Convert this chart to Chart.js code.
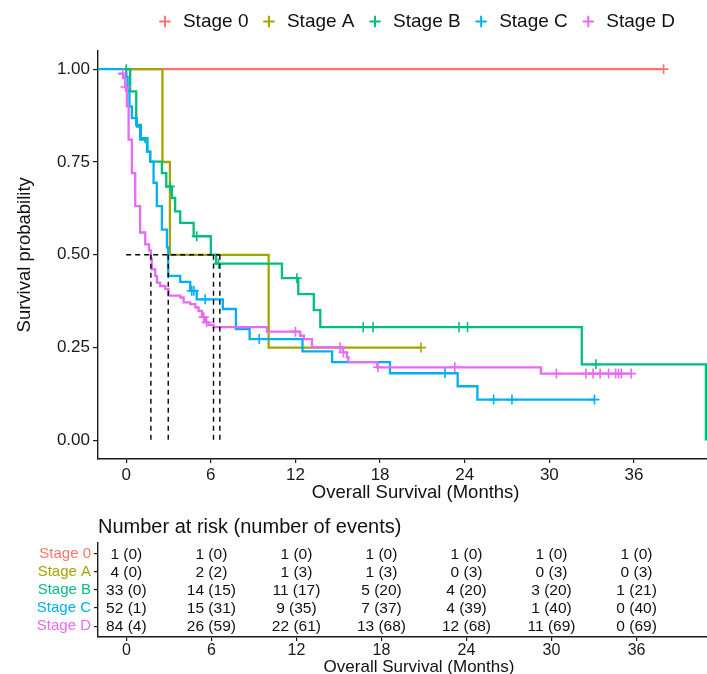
<!DOCTYPE html>
<html><head><meta charset="utf-8">
<script src="https://cdn.jsdelivr.net/npm/chart.js@4.4.1/dist/chart.umd.min.js"></script>
<style>
html,body{margin:0;padding:0;background:#fff;}
#wrap{width:707px;height:674px;overflow:hidden;position:relative;background:#fff;}
.box{position:absolute;left:0;width:740px;}
#mainBox{top:0;height:505px;}
#riskBox{top:505px;height:169px;}
</style></head><body>
<div id="wrap">
  <div class="box" id="mainBox"><canvas id="mainChart"></canvas></div>
  <div class="box" id="riskBox"><canvas id="riskChart"></canvas></div>
</div>
<script>
// ---------------- DATA ----------------
const stageNames  = ["Stage 0","Stage A","Stage B","Stage C","Stage D"];
const stageColors = ["#F8766D","#A3A500","#00BF7D","#00B0F6","#E76BF3"];

// Kaplan-Meier step curves (time in months, survival after that time)
const s0Times = [0, 38.1];
const s0Surv  = [1, 1];
const s0Censor = [38.1];

const sATimes = [0, 2.57, 3.1, 10.1, 20.9];
const sASurv  = [1, 0.75, 0.5, 0.25, 0.25];
const sACensor = [20.9];

const sBTimes = [0, 0.28, 0.71, 1.04, 1.51, 1.70, 2.53, 2.84, 3.24, 3.47, 3.83, 4.78, 6.0, 6.38, 11.04, 12.2, 13.3, 13.76, 32.3, 41.1];
const sBSurv  = [1, 0.94, 0.85, 0.814, 0.778, 0.751, 0.72, 0.684, 0.653, 0.617, 0.586, 0.55, 0.5, 0.476, 0.437, 0.394, 0.351, 0.305, 0.205, 0];
const sBCensor = [0, 3.1, 5.0, 6.55, 12.1, 16.8, 17.5, 23.6, 24.2, 33.3];

const sCTimes = [-2, 0, 0.1, 0.23, 0.4, 0.76, 0.99, 1.35, 1.47, 1.70, 1.94, 2.17, 2.53, 2.89, 2.98, 3.83, 4.54, 5.0, 6.85, 7.78, 8.75, 12.5, 14.6, 18.7, 23.5, 24.9, 33.2];
const sCSurv  = [1, 0.98, 0.94, 0.90, 0.868, 0.845, 0.81, 0.805, 0.778, 0.751, 0.694, 0.631, 0.568, 0.52, 0.443, 0.427, 0.403, 0.38, 0.354, 0.30, 0.273, 0.24, 0.211, 0.181, 0.146, 0.11, 0.11];
const sCCensor = [4.65, 4.8, 5.6, 9.43, 22.6, 26.05, 27.35, 33.2];

const sDTimes = [-0.5, -0.19, -0.07, 0.05, 0.17, 0.4, 0.64, 0.99, 1.35, 1.62, 1.75, 1.82, 2.06, 2.18, 2.41, 2.77, 3.0, 3.83, 4.07, 4.54, 4.9, 5.13, 5.37, 5.6, 5.84, 6.2, 9.98, 12.34, 12.6, 13.17, 15.35, 15.65, 15.75, 17.8, 29.4, 35.8];
const sDSurv  = [0.988, 0.976, 0.952, 0.90, 0.81, 0.72, 0.631, 0.56, 0.528, 0.512, 0.488, 0.461, 0.443, 0.425, 0.416, 0.408, 0.39, 0.385, 0.372, 0.367, 0.358, 0.349, 0.332, 0.318, 0.311, 0.305, 0.293, 0.282, 0.273, 0.251, 0.237, 0.224, 0.211, 0.197, 0.18, 0.18];
const sDCensor = [-0.24, -0.05, 5.5, 5.7, 12.0, 15.17, 15.4, 17.85, 23.3, 30.5, 32.6, 33.1, 33.6, 34.2, 34.7, 34.9, 35.1, 35.8];

// median survival times (Stage A, B, C, D)
const medianTimes = [6.64, 6.19, 2.98, 1.75];

// axis ticks
const xTickValues = [0, 6, 12, 18, 24, 30, 36];
const yTickValues = [0, 0.25, 0.5, 0.75, 1];
const yTickLabels = ["0.00", "0.25", "0.50", "0.75", "1.00"];

// risk table
const riskTimes = [0, 6, 12, 18, 24, 30, 36];
const riskN0 = [1, 1, 1, 1, 1, 1, 1];        const riskE0 = [0, 0, 0, 0, 0, 0, 0];
const riskNA = [4, 2, 1, 1, 0, 0, 0];        const riskEA = [0, 2, 3, 3, 3, 3, 3];
const riskNB = [33, 14, 11, 5, 4, 3, 1];     const riskEB = [0, 15, 17, 20, 20, 20, 21];
const riskNC = [52, 15, 9, 7, 4, 1, 0];      const riskEC = [1, 31, 35, 37, 39, 40, 40];
const riskND = [84, 26, 22, 13, 12, 11, 0];  const riskED = [4, 59, 61, 68, 68, 69, 69];

// ---------------- BUILD ----------------
const X_MIN = -2, X_MAX_MAIN = 43.05, X_MAX_RISK = 43.3;
const FONT = "'Liberation Sans', Arial, Helvetica, sans-serif";
Chart.defaults.font.family = FONT;
Chart.defaults.color = '#1a1a1a';

const allTimes  = [s0Times, sATimes, sBTimes, sCTimes, sDTimes];
const allSurv   = [s0Surv, sASurv, sBSurv, sCSurv, sDSurv];
const allCensor = [s0Censor, sACensor, sBCensor, sCCensor, sDCensor];
const riskN = [riskN0, riskNA, riskNB, riskNC, riskND];
const riskE = [riskE0, riskEA, riskEB, riskEC, riskED];

function stepPoints(times, surv) { return times.map((t, i) => ({x: t, y: surv[i]})); }
function survAt(times, surv, t) { let v = surv[0]; for (let i = 0; i < times.length; i++) { if (times[i] <= t) v = surv[i]; } return v; }

const datasets = [];
for (let i = 0; i < 5; i++) {
  datasets.push({
    label: stageNames[i], isCurve: true,
    data: stepPoints(allTimes[i], allSurv[i]),
    showLine: true, stepped: 'before',
    borderColor: stageColors[i], backgroundColor: stageColors[i],
    borderWidth: 2.3, pointRadius: 0, pointHoverRadius: 0,
    pointStyle: 'cross', pointBorderWidth: 2, order: 20 - i
  });
}
for (let i = 0; i < 5; i++) {
  datasets.push({
    label: stageNames[i] + ' censor',
    data: allCensor[i].map(t => ({x: t, y: survAt(allTimes[i], allSurv[i], t)})),
    showLine: false, pointStyle: 'cross', pointRadius: 5, pointHoverRadius: 5,
    pointBorderWidth: 1.6, borderColor: stageColors[i], backgroundColor: stageColors[i],
    order: 10 - i
  });
}
const medMax = Math.max(...medianTimes);
const dashStyle = {showLine: true, borderColor: '#000', borderWidth: 1.4, borderDash: [5, 4], pointRadius: 0, pointHoverRadius: 0, order: 0};
datasets.push(Object.assign({label: 'median h', data: [{x: 0, y: 0.5}, {x: medMax, y: 0.5}]}, dashStyle));
medianTimes.forEach((m, k) => {
  datasets.push(Object.assign({label: 'median v' + k, data: [{x: m, y: 0.5}, {x: m, y: 0}]}, dashStyle));
});

const axisColor = '#1a1a1a';
function xScaleCfg(xMax, tickSize, tickPad, titleSize, height, titlePadBottom) {
  return {
    type: 'linear', min: X_MIN, max: xMax,
    afterBuildTicks: s => { s.ticks = xTickValues.map(v => ({value: v})); },
    afterFit: s => { s.height = height; },
    ticks: {font: {size: tickSize}, color: axisColor, padding: tickPad, maxRotation: 0, autoSkip: false, callback: v => String(v)},
    grid: {display: true, drawOnChartArea: false, drawTicks: true, tickLength: 4, color: axisColor, lineWidth: 1.2},
    border: {display: true, color: axisColor, width: 1.4},
    title: {display: true, text: 'Overall Survival (Months)', font: {size: titleSize}, color: '#111', padding: {top: 0, bottom: titlePadBottom}}
  };
}

new Chart(document.getElementById('mainChart'), {
  type: 'line',
  data: {datasets},
  options: {
    responsive: true, maintainAspectRatio: false, animation: false,
    events: [],
    layout: {padding: 0},
    plugins: {
      tooltip: {enabled: false},
      legend: {
        display: true, position: 'top', align: 'center', fullSize: false, weight: 3000,
        labels: {
          usePointStyle: true, boxWidth: 17, boxHeight: 8, padding: 12,
          font: {size: 19}, color: '#111',
          filter: (item, data) => !!data.datasets[item.datasetIndex].isCurve,
          sort: (a, b) => a.datasetIndex - b.datasetIndex
        }
      },
      title: {display: true, text: '', font: {size: 8}, padding: {top: 0, bottom: 0}, fullSize: false}
    },
    scales: {
      x: xScaleCfg(X_MAX_MAIN, 17, 2, 18.5, 46, 1),
      y: {
        type: 'linear', min: -0.05, max: 1.05,
        afterBuildTicks: s => { s.ticks = yTickValues.map(v => ({value: v})); },
        afterFit: s => { s.width = 98; },
        ticks: {font: {size: 17}, color: axisColor, padding: 3, callback: (v) => yTickLabels[yTickValues.indexOf(v)]},
        grid: {display: true, drawOnChartArea: false, drawTicks: true, tickLength: 5, color: axisColor, lineWidth: 1.2},
        border: {display: true, color: axisColor, width: 1.4},
        title: {display: true, text: 'Survival probability', font: {size: 18.5}, color: '#111', padding: {top: 14, bottom: 0}}
      }
    }
  }
});

const riskTextPlugin = {
  id: 'riskText',
  afterDatasetsDraw(chart) {
    const {ctx, scales: {x, y}} = chart;
    ctx.save();
    ctx.font = "15.5px " + FONT;
    ctx.fillStyle = '#111';
    ctx.textAlign = 'center';
    ctx.textBaseline = 'middle';
    for (let i = 0; i < stageNames.length; i++) {
      for (let j = 0; j < riskTimes.length; j++) {
        ctx.fillText(riskN[i][j] + ' (' + riskE[i][j] + ')', x.getPixelForValue(riskTimes[j]), y.getPixelForValue(i) + 1);
      }
    }
    ctx.restore();
  }
};

new Chart(document.getElementById('riskChart'), {
  type: 'line',
  data: {datasets: [{label: 'risk', data: [], pointRadius: 0}]},
  options: {
    responsive: true, maintainAspectRatio: false, animation: false,
    events: [],
    layout: {padding: 0},
    plugins: {
      tooltip: {enabled: false},
      legend: {display: false},
      title: {display: true, text: 'Number at risk (number of events)', align: 'start', fullSize: false,
              font: {size: 20, weight: 'normal'}, color: '#111', padding: {top: 10, bottom: 4}}
    },
    scales: {
      x: xScaleCfg(X_MAX_RISK, 16, 0, 17, 37, -3.5),
      y: {
        type: 'linear', min: -0.6, max: 4.6, reverse: true,
        afterBuildTicks: s => { s.ticks = stageNames.map((n, i) => ({value: i})); },
        afterFit: s => { s.width = 98; },
        ticks: {font: {size: 15}, padding: 3, color: (c) => stageColors[c.index], callback: (v) => stageNames[v]},
        grid: {display: true, drawOnChartArea: false, drawTicks: true, tickLength: 4, color: axisColor, lineWidth: 1.2},
        border: {display: true, color: axisColor, width: 1.4}
      }
    }
  },
  plugins: [riskTextPlugin]
});
</script>
</body></html>
